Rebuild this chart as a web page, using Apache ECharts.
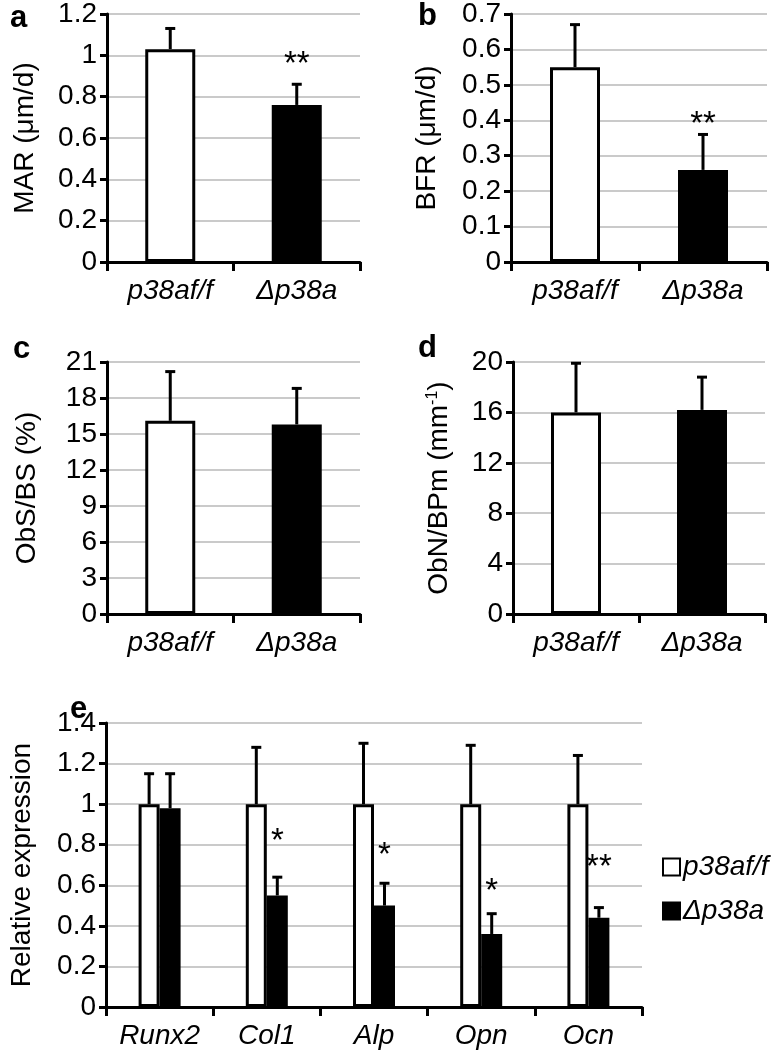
<!DOCTYPE html>
<html>
<head>
<meta charset="utf-8">
<script src="https://cdn.jsdelivr.net/npm/echarts@6/dist/echarts.min.js"></script>
<style>
html,body{margin:0;padding:0;background:#fff;}
#chart{width:774px;height:1053px;}
</style>
</head>
<body>
<div id="chart"></div>
<script>
// ---- data ----
var groups = ['p38af/f', 'Δp38a'];
var genes = ['Runx2', 'Col1', 'Alp', 'Opn', 'Ocn'];

var marMean = [1.03, 0.76];
var marSd = [0.10, 0.10];
var marStars = [null, '**'];
var marStarPos = [null, 0.98];

var bfrMean = [0.55, 0.26];
var bfrSd = [0.12, 0.10];
var bfrStars = [null, '**'];
var bfrStarPos = [null, 0.40];

var obsMean = [16.1, 15.8];
var obsSd = [4.1, 3.0];

var obnMean = [16.0, 16.2];
var obnSd = [3.9, 2.6];

var ctrlMean = [1.00, 1.00, 1.00, 1.00, 1.00];
var ctrlSd = [0.15, 0.28, 0.30, 0.29, 0.24];
var koMean = [0.98, 0.55, 0.50, 0.36, 0.44];
var koSd = [0.17, 0.09, 0.11, 0.10, 0.05];
var koStars = [null, '*', '*', '*', '**'];
var koStarPos = [null, 0.84, 0.77, 0.59, 0.71];

var yTicks = {
  a: {max: 1.2, interval: 0.2},
  b: {max: 0.7, interval: 0.1},
  c: {max: 21, interval: 3},
  d: {max: 20, interval: 4},
  e: {max: 1.4, interval: 0.2}
};

// ---- styles ----
var FONT = '"Liberation Sans", Arial, Helvetica, sans-serif';
var BLACK = '#000';

var grids = [
  {left: 107, top: 9, width: 253, height: 253},
  {left: 511, top: 9, width: 256, height: 253},
  {left: 107, top: 362, width: 253, height: 252},
  {left: 513, top: 362, width: 252, height: 252},
  {left: 100, top: 723, width: 542, height: 284}
];

function xAxisFor(gi, cats) {
  return {
    type: 'category', gridIndex: gi, data: cats,
    axisLine: {show: true, lineStyle: {color: BLACK, width: 3}},
    axisTick: {show: true, length: 9, lineStyle: {color: BLACK, width: 3}},
    axisLabel: {color: BLACK, fontStyle: 'italic', fontSize: 28, fontFamily: FONT, margin: 15, interval: 0}
  };
}
function yAxisFor(gi, t, name, nameGap) {
  return {
    type: 'value', gridIndex: gi, min: 0, max: t.max, interval: t.interval,
    name: name, nameLocation: 'middle', nameGap: nameGap,
    nameTextStyle: {color: BLACK, fontSize: 28, fontFamily: FONT,
      rich: {sup: {fontSize: 16, color: BLACK, fontFamily: FONT, verticalAlign: 'top', padding: [0, 0, 12, 0]}}},
    axisLine: {show: true, lineStyle: {color: BLACK, width: 3}},
    axisTick: {show: true, length: 7, lineStyle: {color: BLACK, width: 3}},
    splitLine: {show: true, lineStyle: {color: '#b9b9b9', width: 1.5}},
    axisLabel: {color: BLACK, fontSize: 28, fontFamily: FONT, margin: 10}
  };
}

function pairBar(gi, name, means) {
  return {
    type: 'bar', name: name, xAxisIndex: gi, yAxisIndex: gi, barWidth: 50,
    itemStyle: {borderColor: BLACK, borderWidth: 3},
    data: means.map(function (v, i) {
      return {value: v, itemStyle: {color: i === 0 ? '#fff' : BLACK, borderColor: BLACK, borderWidth: 3}};
    }),
    z: 2
  };
}

function errRender(offset) {
  return function (params, api) {
    var x = api.value(0), lo = api.value(1), hi = api.value(2);
    var p0 = api.coord([x, lo]);
    var p1 = api.coord([x, hi]);
    var cx = p0[0] + offset;
    return {
      type: 'group',
      children: [
        {type: 'line', shape: {x1: cx, y1: p0[1], x2: cx, y2: p1[1]}, style: {stroke: BLACK, lineWidth: 3}},
        {type: 'line', shape: {x1: cx - 5, y1: p1[1], x2: cx + 5, y2: p1[1]}, style: {stroke: BLACK, lineWidth: 3}}
      ]
    };
  };
}
function errSeries(gi, means, sds, offset) {
  return {
    type: 'custom', xAxisIndex: gi, yAxisIndex: gi, z: 5, silent: true,
    renderItem: errRender(offset),
    encode: {x: 0, y: [1, 2]},
    data: means.map(function (m, i) { return [i, m, +(m + sds[i]).toFixed(3)]; })
  };
}
function starRender(offset, labels) {
  return function (params, api) {
    var idx = api.value(0), y = api.value(1);
    var p = api.coord([idx, y]);
    return {
      type: 'text', x: p[0] + offset, y: p[1] + 5,
      style: {text: labels[params.dataIndex], fontSize: 33, fontFamily: FONT, fill: BLACK,
        align: 'center', verticalAlign: 'middle'}
    };
  };
}
function starSeries(gi, labels, pos, offset) {
  var data = [], labs = [];
  pos.forEach(function (p, i) { if (p != null) { data.push([i, p]); labs.push(labels[i]); } });
  return {
    type: 'custom', xAxisIndex: gi, yAxisIndex: gi, z: 6, silent: true,
    renderItem: starRender(offset, labs),
    data: data
  };
}

var BW_E = 21;
var series = [
  pairBar(0, 'MAR', marMean), errSeries(0, marMean, marSd, 0), starSeries(0, marStars, marStarPos, 0),
  pairBar(1, 'BFR', bfrMean), errSeries(1, bfrMean, bfrSd, 0), starSeries(1, bfrStars, bfrStarPos, 0),
  pairBar(2, 'ObS', obsMean), errSeries(2, obsMean, obsSd, 0),
  pairBar(3, 'ObN', obnMean), errSeries(3, obnMean, obnSd, 0),
  {
    type: 'bar', name: groups[0], xAxisIndex: 4, yAxisIndex: 4, barWidth: BW_E, barGap: '0%',
    itemStyle: {color: '#fff', borderColor: BLACK, borderWidth: 3}, data: ctrlMean, z: 2
  },
  {
    type: 'bar', name: groups[1], xAxisIndex: 4, yAxisIndex: 4, barWidth: BW_E, barGap: '0%',
    itemStyle: {color: BLACK, borderColor: BLACK, borderWidth: 3}, data: koMean, z: 2
  },
  errSeries(4, ctrlMean, ctrlSd, -BW_E / 2),
  errSeries(4, koMean, koSd, BW_E / 2),
  starSeries(4, koStars, koStarPos, BW_E / 2)
];

var panelLabels = [
  {t: 'a', x: 10, y: 28}, {t: 'b', x: 418, y: 26}, {t: 'c', x: 13, y: 359},
  {t: 'd', x: 418, y: 358}, {t: 'e', x: 70, y: 719}
];

var option = {
  backgroundColor: '#fff',
  animation: false,
  grid: grids,
  xAxis: [xAxisFor(0, groups), xAxisFor(1, groups), xAxisFor(2, groups), xAxisFor(3, groups), xAxisFor(4, genes)],
  yAxis: [
    yAxisFor(0, yTicks.a, 'MAR (μm/d)', 68),
    yAxisFor(1, yTicks.b, 'BFR (μm/d)', 70),
    yAxisFor(2, yTicks.c, 'ObS/BS (%)', 66),
    yAxisFor(3, yTicks.d, 'ObN/BPm (mm{sup|-1})', 60),
    yAxisFor(4, yTicks.e, 'Relative expression', 70)
  ],
  legend: {
    orient: 'vertical', left: 662, top: 853, padding: 0, itemWidth: 17, itemHeight: 17, itemGap: 16,
    selectedMode: false, icon: 'rect',
    textStyle: {color: BLACK, fontSize: 28, fontStyle: 'italic', fontFamily: FONT, padding: [0, 0, 0, -2]},
    data: groups
  },
  graphic: panelLabels.map(function (p) {
    return {type: 'text', left: p.x, top: p.y - 25,
      style: {text: p.t, fontSize: 31, fontWeight: 'bold', fontFamily: FONT, fill: BLACK}};
  }),
  series: series
};

var chart = echarts.init(document.getElementById('chart'), null, {renderer: 'canvas'});
chart.setOption(option);
</script>
</body>
</html>
